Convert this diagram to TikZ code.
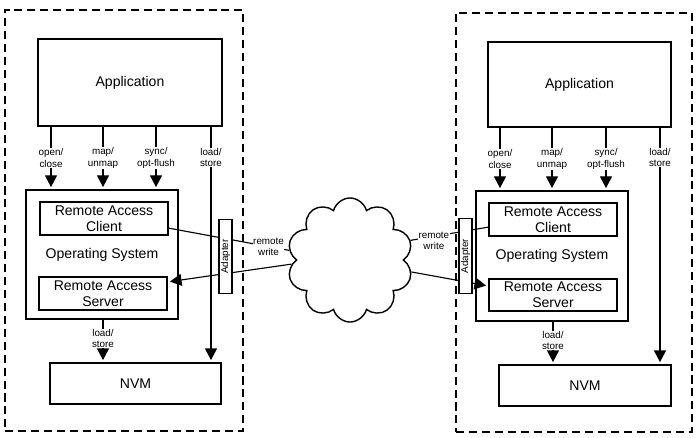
\documentclass[tikz,border=0pt]{standalone}
\usepackage{fontspec}
\setmainfont{Liberation Sans}
\usepackage{graphicx}
\usetikzlibrary{arrows.meta, shapes.symbols}

\begin{document}
\begin{tikzpicture}[
  x=0.025cm, y=-0.025cm,
  host/.style={rectangle, draw, line width=1pt, dash pattern=on 5.7pt off 3.5pt},
  block/.style={rectangle, draw, fill=white, line width=0.8pt, inner sep=1pt,
                align=center, font=\fontsize{10}{11.5}\selectfont},
  small/.style={fill=white, inner sep=0.3pt, align=center,
                font=\fontsize{7}{8}\selectfont},
  adapter/.style={rectangle, draw, fill=white, line width=0.8pt, inner sep=0pt,
                  minimum width=0.325cm, minimum height=1.86cm,
                  font=\fontsize{7}{8}\selectfont},
  net/.style={cloud, cloud puffs=10, aspect=1, draw, fill=white,
              line width=1pt, minimum width=3.15cm, minimum height=3.1cm},
  link/.style={line width=0.8pt},
  call/.style={-{Triangle[length=2.9mm, width=3mm]}, line width=0.8pt,
               shorten >=0.06cm}
]
\useasboundingbox (0,0) rectangle (697,437);
% host frames
\node[host, minimum width=5.95cm, minimum height=10.525cm] (hostL) at (124,220.5) {};
\node[host, minimum width=5.9cm, minimum height=10.475cm] (hostR) at (574,222.5) {};
% left host
\node[block, minimum width=4.6cm, minimum height=2.175cm] (appL) at (130,82.5) {Application};
\node[block, minimum width=3.8cm, minimum height=3.225cm] (osL) at (102,254.5) {Operating System};
\node[block, minimum width=3.2cm, minimum height=0.825cm] (clientL) at (104,218.5) {Remote Access\\Client};
\node[block, minimum width=3.2cm, minimum height=0.825cm] (serverL) at (103,293.5) {Remote Access\\Server};
\node[block, minimum width=4.275cm, minimum height=1.025cm] (nvmL) at (135.5,383.5) {NVM};
% right host
\node[block, minimum width=4.575cm, minimum height=2.125cm] (appR) at (579.5,84.5) {Application};
\node[block, minimum width=3.8cm, minimum height=3.25cm] (osR) at (552,256) {Operating System};
\node[block, minimum width=3.2cm, minimum height=0.825cm] (clientR) at (553,219.5) {Remote Access\\Client};
\node[block, minimum width=3.2cm, minimum height=0.8cm] (serverR) at (553,295) {Remote Access\\Server};
\node[block, minimum width=4.3cm, minimum height=1.025cm] (nvmR) at (585,385.5) {NVM};
% network
\node[net] (cloud) at (350,260) {};
% calls into the kernel
\draw[call] (appL.south -| 51,0) -- (osL.north -| 51,0) node[midway, small] {open/\\close};
\draw[call] (appL.south -| 103,0) -- (osL.north -| 103,0) node[midway, small] {map/\\unmap};
\draw[call] (appL.south -| 156,0) -- (osL.north -| 156,0) node[midway, small] {sync/\\opt-flush};
\draw[call] (appL.south -| 211,0) -- (nvmL.north -| 211,0) node[pos=0.13, small] {load/\\store};
\draw[call] (osL.south -| 103,0) -- (nvmL.north -| 103,0) node[pos=0.44, small] {load/\\store};
\draw[call] (appR.south -| 500,0) -- (osR.north -| 500,0) node[midway, small] {open/\\close};
\draw[call] (appR.south -| 552,0) -- (osR.north -| 552,0) node[midway, small] {map/\\unmap};
\draw[call] (appR.south -| 606,0) -- (osR.north -| 606,0) node[midway, small] {sync/\\opt-flush};
\draw[call] (appR.south -| 660,0) -- (nvmR.north -| 660,0) node[pos=0.126, small] {load/\\store};
\draw[call] (osR.south -| 553,0) -- (nvmR.north -| 553,0) node[pos=0.44, small] {load/\\store};
% remote writes
\draw[link] ([yshift=-0.24cm]clientL.east) -- (cloud.171)
  node[pos=0.83, small] {remote\\write};
\draw[call] (cloud.184) -- ([yshift=0.29cm]serverL.east);
\draw[link] ([yshift=-0.19cm]clientR.west) -- (cloud.18)
  node[pos=0.7, small, yshift=-0.12cm] {remote\\write};
\draw[call] (cloud.-11) -- ([yshift=0.225cm]serverR.west);
% adapters
\node[adapter] (adapterL) at (225.5,256.5) {\rotatebox{90}{Adapter}};
\node[adapter] (adapterR) at (465.5,256) {\rotatebox{90}{Adapter}};
\end{tikzpicture}
\end{document}
